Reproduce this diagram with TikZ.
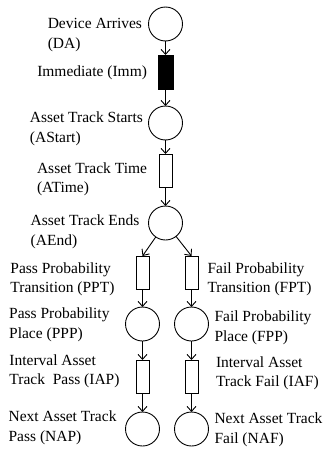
\documentclass[tikz,border=0pt]{standalone}
\usepackage{fontspec}
\setmainfont{Liberation Serif}
\usetikzlibrary{positioning,arrows.meta}

\begin{document}
\begin{tikzpicture}[
   x=1pt, y=1pt,
   node distance = 16pt and 8pt,
   every node/.style = {outer sep=0pt},
   place/.style = {circle, draw, line width=0.9pt, minimum size=34pt, inner sep=0pt},
   trans/.style = {rectangle, draw, line width=0.9pt, minimum width=13pt,
                   minimum height=33pt, inner sep=0pt},
   immtr/.style = {trans, fill=black, minimum width=15pt, minimum height=34pt},
   lab/.style   = {align=left, inner sep=0pt,
                   font=\fontsize{15.5pt}{19.5pt}\selectfont},
   arr/.style   = {-{Straight Barb[length=5pt,width=9pt]}, line width=0.9pt}
]
\useasboundingbox (0,0) rectangle (324,-450);

\node[place]                                (da)     at (165.5,-24) {};
\node[immtr, below=14pt of da]              (imm)    {};
\node[place, below=17pt of imm]             (astart) {};
\node[trans, below=14pt of astart]          (atime)  {};
\node[place, below=19pt of atime]           (aend)   {};
\node[trans, below=16pt of aend, xshift=-23pt] (ppt) {};
\node[trans, below=16pt of aend, xshift=26pt]  (fpt) {};
\node[place, below=18pt of ppt]             (ppp)    {};
\node[place, below=18pt of fpt]             (fpp)    {};
\node[trans, below=19pt of ppp]             (iap)    {};
\node[trans, below=19pt of fpp]             (iaf)    {};
\node[place, below=19pt of iap]             (nap)    {};
\node[place, below=19pt of iaf]             (naf)    {};

\node[lab, left=6.5pt of da, yshift=-11pt]      (dalab)     {Device Arrives\\(DA)};
\node[lab, left=11pt of imm, yshift=-1pt]       (immlab)    {Immediate (Imm)};
\node[lab, left=5.5pt of astart, yshift=-6pt]   (astartlab) {Asset Track Starts\\(AStart)};
\node[lab, left=12pt of atime, yshift=-9pt]     (atimelab)  {Asset Track Time\\(ATime)};
\node[lab, left=9pt of aend, yshift=-9pt]       (aendlab)   {Asset Track Ends\\(AEnd)};
\node[lab, left=21.5pt of ppt, yshift=-7pt]     (pptlab)    {Pass Probability\\Transition (PPT)};
\node[lab, right=9.5pt of fpt, yshift=-7pt]     (fptlab)    {Fail Probability\\Transition (FPT)};
\node[lab, left=16pt of ppp, yshift=-1pt]       (ppplab)    {Pass Probability\\Place (PPP)};
\node[lab, right=6pt of fpp, yshift=-4pt]       (fpplab)    {Fail Probability\\Place (FPP)};
\node[lab, left=16.5pt of iap, yshift=5pt]      (iaplab)    {Interval Asset\\Track\ \ Pass (IAP)};
\node[lab, right=18pt of iaf, yshift=3pt]       (iaflab)    {Interval Asset\\Track Fail (IAF)};
\node[lab, left=9pt of nap, yshift=1pt]         (naplab)    {Next Asset Track\\Pass (NAP)};
\node[lab, right=6pt of naf, yshift=-1pt]       (naflab)    {Next Asset Track\\Fail (NAF)};

\draw[arr] (da)     -- (imm);
\draw[arr] (imm)    -- (astart);
\draw[arr] (astart) -- (atime);
\draw[arr] (atime)  -- (aend);
\draw[arr] (aend)   -- (ppt.north);
\draw[arr] (aend)   -- (fpt.north);
\draw[arr] (ppt)    -- (ppp);
\draw[arr] (fpt)    -- (fpp);
\draw[arr] (ppp)    -- (iap);
\draw[arr] (fpp)    -- (iaf);
\draw[arr] (iap)    -- (nap);
\draw[arr] (iaf)    -- (naf);
\end{tikzpicture}
\end{document}
